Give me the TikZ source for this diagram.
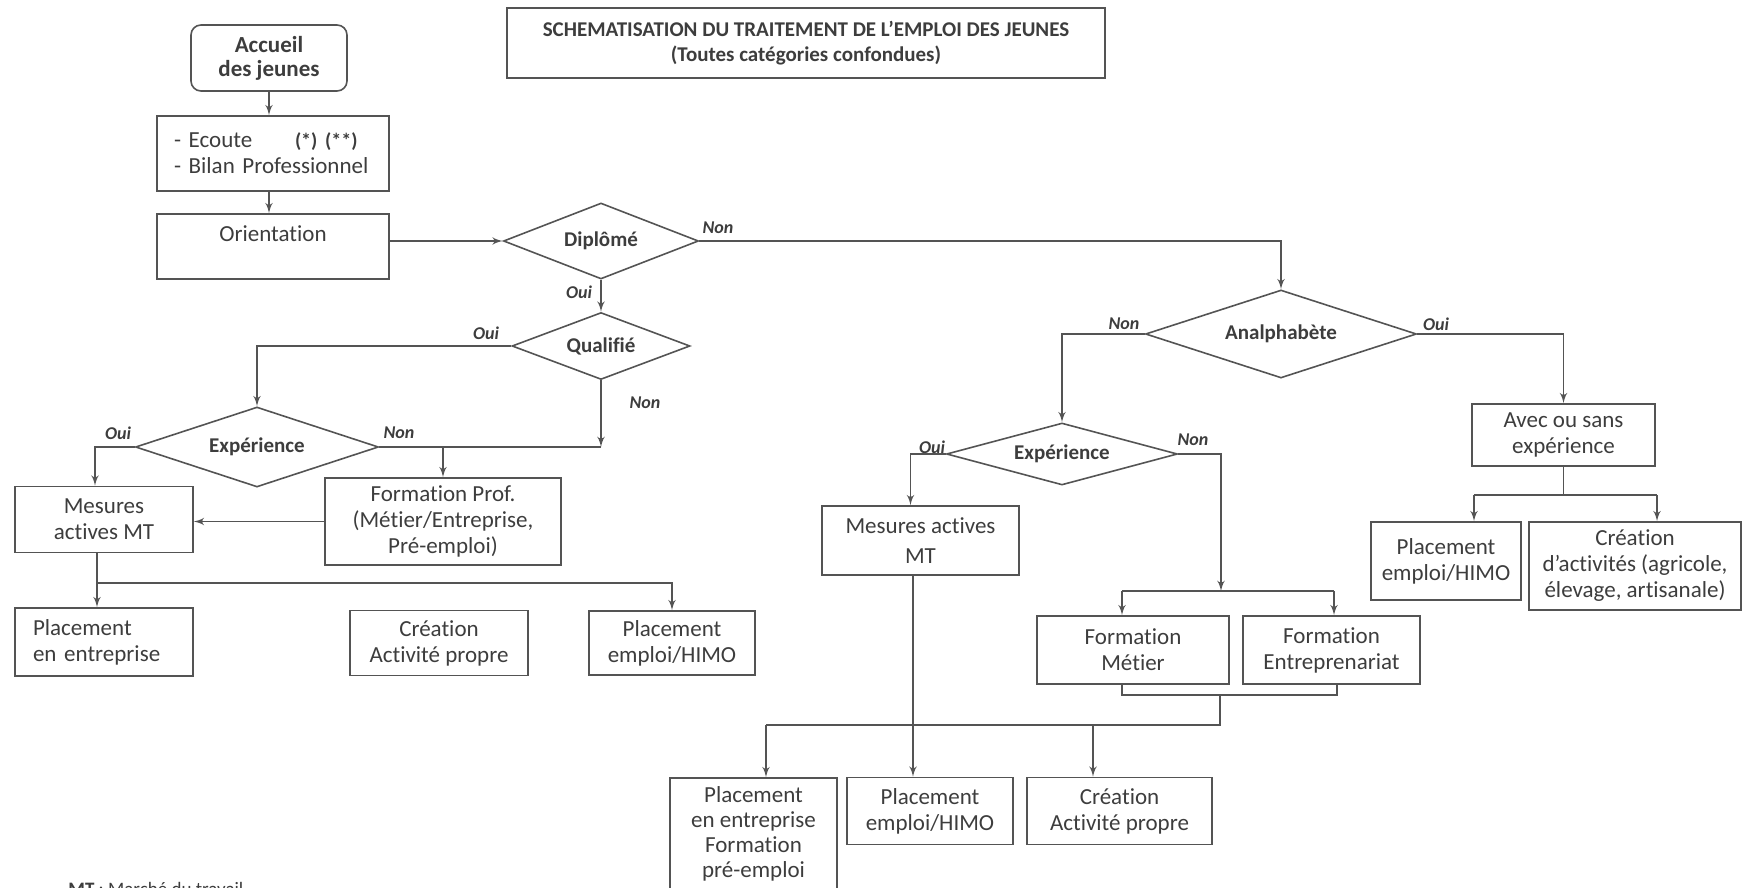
\documentclass[tikz,border=0pt]{standalone}
\usepackage{fontspec}
\setmainfont{Carlito}[Ligatures=NoCommon]
\usetikzlibrary{arrows}
\usetikzlibrary{shapes.geometric}
\definecolor{mgray}{rgb}{0.33, 0.33, 0.33}
\definecolor{tgray}{rgb}{0.24, 0.24, 0.24}

\tikzset{
  box/.style={draw=mgray, line width=0.8pt, text=tgray, align=center, inner sep=0pt,
    font=\fontsize{11.5}{13}\selectfont},
  decision/.style={diamond, aspect=3, draw=mgray, line width=0.8pt, text=tgray, inner sep=0pt,
    font=\bfseries\fontsize{10.5}{12}\selectfont},
  yn/.style={text=tgray, inner sep=0pt, font=\bfseries\itshape\fontsize{9}{11}\selectfont},
  conn/.style={draw=mgray, line width=0.8pt},
  arr/.style={conn, -latex'}
}

\begin{document}
\begin{tikzpicture}[x=0.5pt, y=-0.5pt]
    \useasboundingbox (0,0) rectangle (1746,888);

    \node [box, minimum width=299pt, minimum height=35pt, font=\bfseries\fontsize{10.5}{12.5}\selectfont] (title) at (806,43)
      {SCHEMATISATION DU TRAITEMENT DE L’EMPLOI DES JEUNES\\(Toutes catégories confondues)};

    % left column
    \node [box, rounded corners=5pt, minimum width=78pt, minimum height=33pt, font=\bfseries\fontsize{11.5}{12}\selectfont] (accueil) at (269,58) {Accueil\\des jeunes};
    \node [box, minimum width=116pt, minimum height=37.5pt, text width=99pt, inner xsep=8.5pt, align=left] (ecoute) at (273,153.5)
      {\makebox[60.5pt][l]{- Ecoute}{\bfseries\fontsize{10}{12}\selectfont (*) (**)}\\- Bilan Professionnel};
    \node [box, minimum width=116pt, minimum height=32.5pt] (orient) at (273,246.5) {Orientation\\~};

    \node [decision, minimum width=97.5pt, minimum height=38pt] (diplome) at (601,241) {Diplômé};
    \node [decision, minimum width=89pt, minimum height=33.5pt] (qualifie) at (601,346) {Qualifié};
    \node [decision, minimum width=121.5pt, minimum height=40pt] (expL) at (257,447) {Expérience};

    \node [box, minimum width=89pt, minimum height=33pt] (mesuresL) at (104,519.5) {Mesures\\actives MT};
    \node [box, minimum width=118pt, minimum height=43.5pt] (formprof) at (443,521.5) {Formation Prof.\\(Métier/Entreprise,\\Pré-emploi)};
    \node [box, minimum width=89pt, minimum height=34pt, text width=71pt, inner xsep=9pt, align=left] (placentL) at (104,642) {Placement\\en entreprise};
    \node [box, minimum width=89pt, minimum height=32.5pt] (creaL) at (439,643) {Création\\Activité propre};
    \node [box, minimum width=83pt, minimum height=32pt] (himoL) at (672,643) {Placement\\emploi/HIMO};

    % right part
    \node [decision, minimum width=135.5pt, minimum height=44pt] (analpha) at (1281,334) {Analphabète};
    \node [decision, minimum width=115.5pt, minimum height=31pt] (expR) at (1062,454) {Expérience};

    \node [box, minimum width=98.5pt, minimum height=34.5pt] (mesuresR) at (920.5,540.5) {Mesures actives\\[2pt]MT};
    \node [box, minimum width=91.5pt, minimum height=31pt] (avec) at (1563.5,435) {Avec ou sans\\expérience};
    \node [box, minimum width=75pt, minimum height=39pt] (himoR) at (1446,561) {Placement\\emploi/HIMO};
    \node [box, minimum width=106pt, minimum height=44pt] (creaR) at (1635,566) {Création\\d’activités (agricole,\\élevage, artisanale)};
    \node [box, minimum width=96pt, minimum height=34pt] (formmet) at (1133,650) {Formation\\Métier};
    \node [box, minimum width=88.5pt, minimum height=34pt] (formentr) at (1331.5,650) {Formation\\Entreprenariat};

    \node [box, minimum width=83.5pt, minimum height=56pt, font=\fontsize{11.5}{12.5}\selectfont] (placentB) at (753.5,834) {Placement\\en entreprise\\Formation\\pré-emploi};
    \node [box, minimum width=83pt, minimum height=33.5pt] (himoB) at (930,811) {Placement\\emploi/HIMO};
    \node [box, minimum width=92.5pt, minimum height=33.5pt] (creaB) at (1119.5,811) {Création\\Activité propre};

    \node [anchor=base west, text=tgray, inner sep=0pt, font=\fontsize{9.5}{11}\selectfont] (note) at (68,895) {\textbf{MT} : Marché du travail};

    % Oui / Non
    \node [yn] (dipoui) at (579,292) {Oui};
    \node [yn] (dipnon) at (718,228) {Non};
    \node [yn] (qualoui) at (486,333) {Oui};
    \node [yn] (qualnon) at (645,403) {Non};
    \node [yn] (expLoui) at (118,433) {Oui};
    \node [yn] (expLnon) at (399,433) {Non};
    \node [yn] (analnon) at (1124,324) {Non};
    \node [yn] (analoui) at (1436,324) {Oui};
    \node [yn] (expRoui) at (932,447) {Oui};
    \node [yn] (expRnon) at (1193,440) {Non};

    % connectors, left
    \draw [arr] (accueil.south) -- (accueil.south |- ecoute.north);
    \draw [arr] (accueil.south |- ecoute.south) -- (accueil.south |- orient.north);
    \draw [arr] (orient.east |- diplome.west) -- (diplome.west);
    \draw [arr] (diplome.south) -- (qualifie.north);
    \draw [arr] (diplome.east) -| (analpha.north);
    \draw [arr] (qualifie.west) -| (expL.north);
    \coordinate (qnon) at (qualifie.south |- expL.east);
    \draw [arr] (qualifie.south) -- (qnon);
    \draw [conn] (expL.east) -- (qnon);
    \draw [arr] (expL.east -| formprof.north) -- (formprof.north);
    \draw [arr] (expL.west) -| ([xshift=-4.5pt]mesuresL.north);
    \draw [arr] (formprof.west) -- (formprof.west -| mesuresL.east);
    \coordinate (lf) at (97,583);
    \draw [arr] (mesuresL.south -| lf) -- (lf) -| (himoL.north);
    \draw [arr] (lf) -- (lf |- placentL.north);

    % connectors, right
    \draw [arr] (analpha.west) -| (expR.north);
    \draw [arr] (analpha.east) -| (avec.north);
    \coordinate (af1) at (1474,495);
    \coordinate (af2) at (1657,495);
    \draw [conn] (avec.south) -- (avec.south |- af1);
    \draw [conn] (af1) -- (af2);
    \draw [arr] (af1) -- (af1 |- himoR.north);
    \draw [arr] (af2) -- (af2 |- creaR.north);

    \draw [arr] (expR.west) -| ([xshift=-5pt]mesuresR.north);
    \coordinate (rf) at (1221,591);
    \coordinate (rf1) at (1122,591);
    \coordinate (rf2) at (1334,591);
    \draw [arr] (expR.east) -| (rf);
    \draw [conn] (rf1) -- (rf2);
    \draw [arr] (rf1) -- (rf1 |- formmet.north);
    \draw [arr] (rf2) -- (rf2 |- formentr.north);

    \coordinate (bs1) at (1122,695);
    \coordinate (bs2) at (1337,695);
    \draw [conn] (bs1 |- formmet.south) -- (bs1) -- (bs2) -- (bs2 |- formentr.south);
    \coordinate (bf) at (1220,725);
    \coordinate (bf1) at (766,725);
    \coordinate (bf2) at (1093,725);
    \draw [conn] (bf |- bs1) -- (bf) -- (bf1);
    \draw [arr] (bf1) -- (bf1 |- placentB.north);
    \draw [arr] (bf2) -- (bf2 |- creaB.north);
    \coordinate (mrd) at ([xshift=-3.75pt]mesuresR.south);
    \draw [arr] (mrd) -- (mrd |- himoB.north);
\end{tikzpicture}
\end{document}
